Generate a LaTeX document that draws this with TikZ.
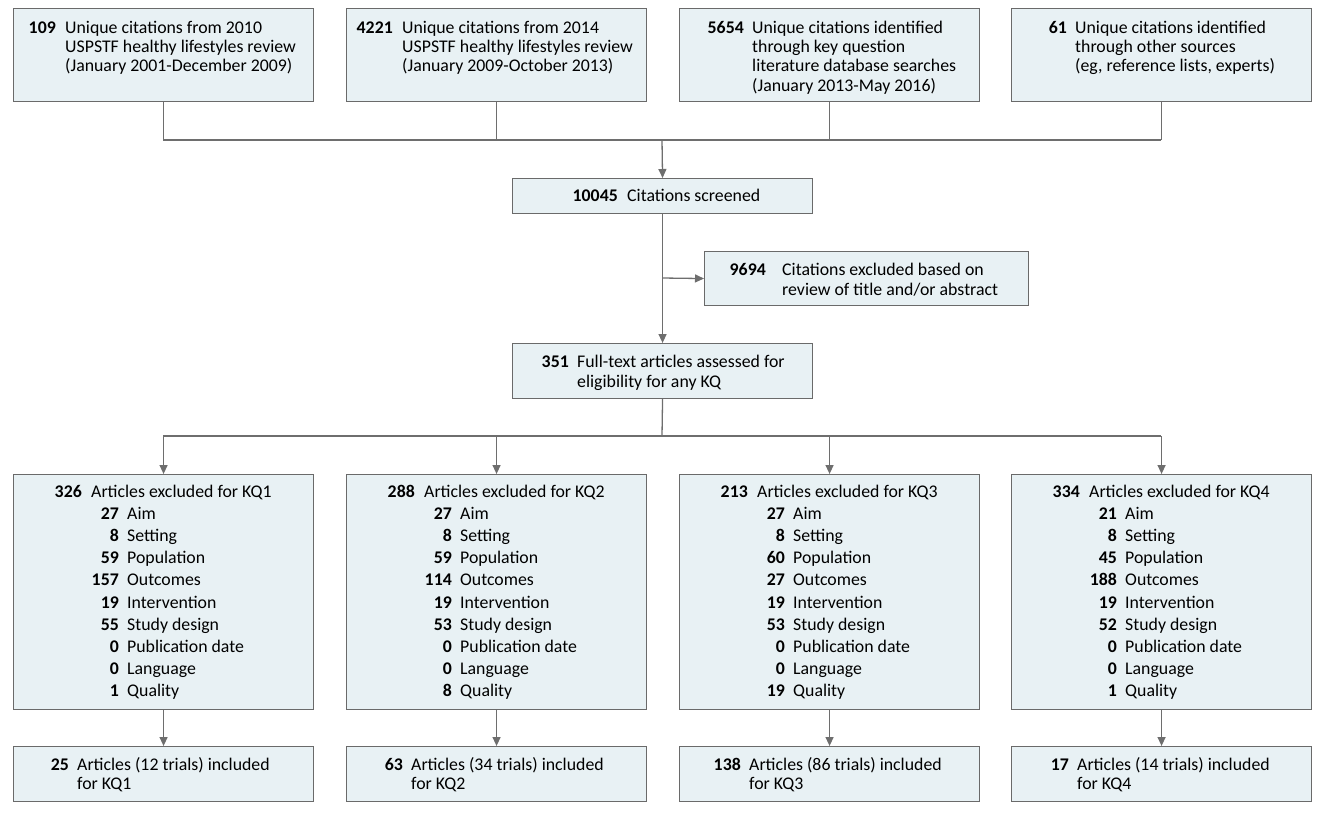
\documentclass[tikz,border=0pt]{standalone}
\usepackage{fontspec}
\setmainfont{Carlito}
\usetikzlibrary{arrows.meta}
\definecolor{boxfill}{HTML}{E8F1F4}
\definecolor{boxline}{HTML}{6A6A6A}
\definecolor{conn}{HTML}{6E6E6E}
\tikzset{
  fbox/.style={draw=boxline, fill=boxfill, line width=1.1pt, inner sep=0pt, anchor=north west},
  txt/.style={inner sep=0pt, anchor=base west, font=\fontsize{17.8}{20}\selectfont},
  num/.style={inner sep=0pt, anchor=base east, font=\fontsize{17.8}{20}\selectfont\bfseries},
  conline/.style={draw=conn, line width=1.3pt},
  arr/.style={conline, -{Triangle[length=9pt,width=8pt]}}
}
\begin{document}
\begin{tikzpicture}[x=1pt,y=-1pt]
\useasboundingbox (0,0) rectangle (1327,822);
% top boxes
\node[fbox, minimum width=300pt, minimum height=93pt] (t1) at (13,8) {};
\node[fbox, minimum width=300pt, minimum height=93pt] (t2) at (346,8) {};
\node[fbox, minimum width=300pt, minimum height=93pt] (t3) at (679,8) {};
\node[fbox, minimum width=300pt, minimum height=93pt] (t4) at (1011,8) {};
% top texts
\node[num] (t1n) at (56,33) {109};
\node[txt] (t1a) at (65,33) {Unique citations from 2010};
\node[txt] (t1b) at (65,52) {USPSTF healthy lifestyles review};
\node[txt] (t1c) at (65,71) {(January 2001-December 2009)};
\node[num] (t2n) at (393,33) {4221};
\node[txt] (t2a) at (402,33) {Unique citations from 2014};
\node[txt] (t2b) at (402,52) {USPSTF healthy lifestyles review};
\node[txt] (t2c) at (402,71) {(January 2009-October 2013)};
\node[num] (t3n) at (744,33) {5654};
\node[txt] (t3a) at (752,33) {Unique citations identified};
\node[txt] (t3b) at (752,52) {through key question};
\node[txt] (t3c) at (752,71) {literature database searches};
\node[txt] (t3d) at (752,91) {(January 2013-May 2016)};
\node[num] (t4n) at (1067,33) {61};
\node[txt] (t4a) at (1075,33) {Unique citations identified};
\node[txt] (t4b) at (1075,52) {through other sources};
\node[txt] (t4c) at (1075,71) {(eg, reference lists, experts)};
% screened
\node[fbox, minimum width=300pt, minimum height=35pt] (scr) at (512,178) {};
\node[num] (scrn) at (618,201) {10045};
\node[txt] (scrt) at (627,201) {Citations screened};
% excluded
\node[fbox, minimum width=324pt, minimum height=54pt] (exc) at (704,251) {};
\node[num] (excn) at (766,275) {9694};
\node[txt] (exca) at (782,275) {Citations excluded based on};
\node[txt] (excb) at (782,295) {review of title and/or abstract};
% full text
\node[fbox, minimum width=300pt, minimum height=55pt] (ft) at (512,343) {};
\node[num] (ftn) at (569,367) {351};
\node[txt] (fta) at (577,367) {Full-text articles assessed for};
\node[txt] (ftb) at (577,387) {eligibility for any KQ};
% KQ exclusion boxes
\foreach \i/\x in {1/13,2/346,3/679,4/1011}{
  \node[fbox, minimum width=300pt, minimum height=235pt] (k\i) at (\x,474) {};
  \node[fbox, minimum width=300pt, minimum height=55pt] (in\i) at (\x,746) {};
}
\foreach \i/\x/\h/\la/\lb/\lc/\ld/\le/\lf/\lg/\lh/\li in {
  1/13/326/27/8/59/157/19/55/0/0/1,
  2/346/288/27/8/59/114/19/53/0/0/8,
  3/679/213/27/8/60/27/19/53/0/0/19,
  4/1011/334/21/8/45/188/19/52/0/0/1}{
  \node[num] (k\i h) at (\x+69,497) {\h};
  \node[txt] (k\i ht) at (\x+78,497) {Articles excluded for KQ\i};
  \foreach \n/\lab [count=\j from 1] in {\la/Aim,\lb/Setting,\lc/Population,\ld/Outcomes,\le/Intervention,\lf/Study design,\lg/Publication date,\lh/Language,\li/Quality}{
    \node[num] (k\i n\j) at (\x+106,497+22.2*\j) {\n};
    \node[txt] (k\i l\j) at (\x+114,497+22.2*\j) {\lab};
  }
}
\foreach \i/\x/\o/\a/\t in {1/13/64/25/12,2/346/65/63/34,3/679/70/138/86,4/1011/66/17/14}{
  \node[num] (in\i n) at (\x+\o-8,770) {\a};
  \node[txt] (in\i a) at (\x+\o,770) {Articles (\t\ trials) included};
  \node[txt] (in\i b) at (\x+\o,789) {for KQ\i};
}
% connectors
\coordinate (h1) at (163,140);
\coordinate (h4) at (1161,140);
\coordinate (hm) at (662,140);
\foreach \i in {1,2,3,4}{ \draw[conline] (t\i.south) -- (t\i.south |- hm); }
\draw[conline] (h1) -- (h4);
\draw[arr] (hm) -- (scr.north);
\draw[arr] (scr.south) -- (ft.north);
\coordinate (br) at (662,278);
\draw[arr] (br) -- (exc.west);
\coordinate (g1) at (163,436);
\coordinate (g4) at (1161,436);
\coordinate (gm) at (662,436);
\draw[conline] (ft.south) -- (gm);
\draw[conline] (g1) -- (g4);
\foreach \i in {1,2,3,4}{
  \draw[arr] (k\i.north |- gm) -- (k\i.north);
  \draw[arr] (k\i.south) -- (in\i.north);
}
\end{tikzpicture}
\end{document}
